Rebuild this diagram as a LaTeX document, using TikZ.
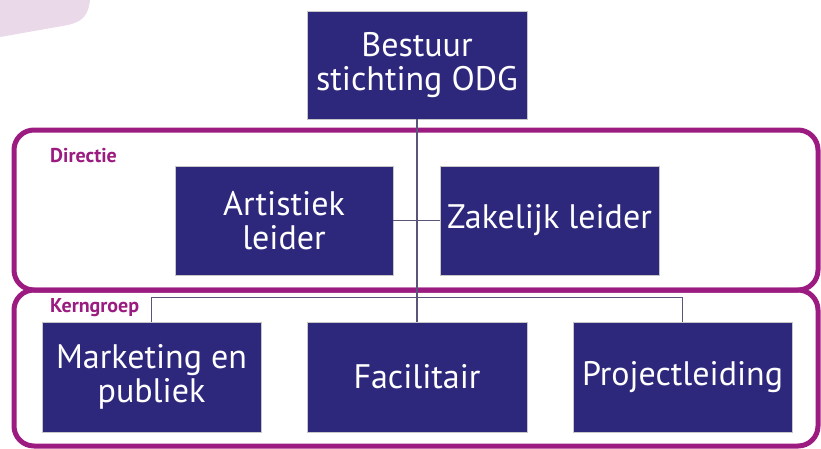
\documentclass[tikz,border=0pt]{standalone}
\usepackage{fontspec}
\setmainfont{PT Sans}
\definecolor{boxblue}{RGB}{46,40,125}
\definecolor{groupmag}{RGB}{155,27,128}
\definecolor{blobpink}{RGB}{234,217,232}
\definecolor{linegray}{RGB}{90,85,120}
\begin{document}
\begin{tikzpicture}
  [x=1pt,y=-1pt,
   orgbox/.style={rectangle,fill=boxblue,draw=black!22,line width=0.8pt,
     text=white,align=center,inner sep=2pt,
     font=\fontsize{34}{34}\selectfont},
   groupframe/.style={draw=groupmag,line width=5pt,rounded corners=20pt},
   grouplabel/.style={text=groupmag,font=\fontsize{20}{22}\selectfont\bfseries,
     anchor=west,inner sep=0pt},
   tie/.style={draw=linegray,line width=1.2pt}]
  \useasboundingbox (0,0) rectangle (821,448);
  \fill[blobpink] (0,0) -- (90,0) .. controls (88,18) and (80,22) .. (68,25)
    -- (0,37) -- cycle;

  \draw[groupframe] (14,130) rectangle (818,290);
  \draw[groupframe] (14,290) rectangle (818,446);
  \node[grouplabel] (directie) at (50,156) {Directie};
  \node[grouplabel] (kerngroep) at (50,308) {Kerngroep};

  \node[orgbox,minimum width=220pt,minimum height=108pt] (bestuur) at (417,65)
    {Bestuur\\stichting ODG};
  \node[orgbox,minimum width=218pt,minimum height=109pt] (artistiek) at (284,220.5)
    {Artistiek\\leider};
  \node[orgbox,minimum width=219pt,minimum height=109pt] (zakelijk) at (549.5,220.5)
    {Zakelijk leider};
  \node[orgbox,minimum width=219pt,minimum height=110pt] (marketing) at (151.5,377)
    {Marketing en\\publiek};
  \node[orgbox,minimum width=220pt,minimum height=110pt] (facilitair) at (417,377)
    {Facilitair};
  \node[orgbox,minimum width=219pt,minimum height=110pt] (project) at (682.5,377)
    {Projectleiding};

  \draw[tie] (bestuur.south) -- (facilitair.north);
  \draw[tie] (artistiek.east) -- (zakelijk.west);
  \draw[tie] (marketing.north) -- ++(0,-24) -| (project.north);

\end{tikzpicture}
\end{document}
